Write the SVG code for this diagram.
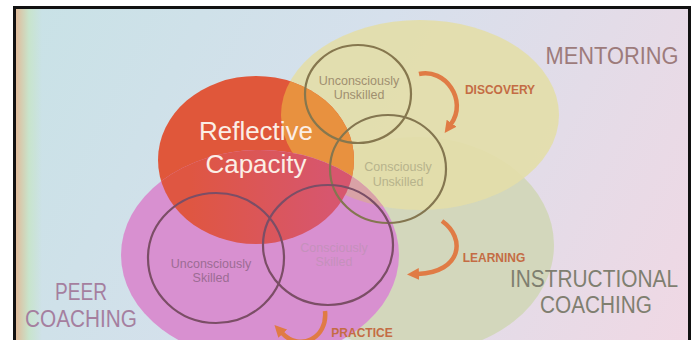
<svg xmlns="http://www.w3.org/2000/svg" width="695" height="340" viewBox="0 0 695 340">
<style>
.lbl{font-family:"Liberation Sans",Arial,sans-serif;text-anchor:middle}
.big{font-size:23px}
.step{font-size:12px;font-weight:bold;fill:#c46c44}
.inner{font-size:12.5px}
.ring{fill:none;stroke-width:2.2}
.arrow{fill:none;stroke:#e07b45;stroke-width:4.5;marker-end:url(#head)}
</style>
<defs>
<linearGradient id="bg" gradientUnits="userSpaceOnUse" x1="16" y1="9" x2="688" y2="340">
<stop offset="0" stop-color="#c8e2e6"/>
<stop offset="0.45" stop-color="#d6e0ec"/>
<stop offset="1" stop-color="#f0d8e4"/>
</linearGradient>
<linearGradient id="edge" gradientUnits="userSpaceOnUse" x1="16" y1="0" x2="42" y2="0">
<stop offset="0" stop-color="#e0bc9c"/>
<stop offset="0.5" stop-color="#c8e4cc"/>
<stop offset="1" stop-color="#c8e4cc" stop-opacity="0"/>
</linearGradient>
<linearGradient id="mr" gradientUnits="userSpaceOnUse" x1="190" y1="0" x2="330" y2="0">
<stop offset="0" stop-color="#df5642"/>
<stop offset="1" stop-color="#d7566e"/>
</linearGradient>
<clipPath id="clipSlide"><rect x="16" y="9" width="672" height="331"/></clipPath>
<clipPath id="clipR"><ellipse cx="256" cy="160" rx="98" ry="84"/></clipPath>
<clipPath id="clipM"><ellipse cx="260" cy="255" rx="139" ry="105"/></clipPath>
<marker id="head" viewBox="0 -6 12 12" markerWidth="12" markerHeight="12" refX="1" refY="0" orient="auto" markerUnits="userSpaceOnUse">
<path d="M0,-6 L12,0 L0,6 Z" fill="#e07b45"/>
</marker>
</defs>
<rect x="0" y="0" width="695" height="340" fill="#ffffff"/>
<rect x="13" y="6" width="678" height="340" fill="#111111"/>
<g clip-path="url(#clipSlide)">
<rect x="16" y="9" width="672" height="331" fill="url(#bg)"/>
<rect x="16" y="9" width="26" height="331" fill="url(#edge)"/>

<g id="instructional-coaching">
<ellipse cx="417" cy="245" rx="137" ry="108" fill="#d3d7bc"/>
<text class="lbl big" x="594" y="287" fill="#7f7f70" textLength="168" lengthAdjust="spacingAndGlyphs" font-size="25">INSTRUCTIONAL</text>
<text class="lbl big" x="596" y="313" fill="#7f7f70" textLength="112" lengthAdjust="spacingAndGlyphs">COACHING</text>
</g>
<g id="mentoring">
<ellipse cx="420" cy="115" rx="139" ry="95" fill="#e3dea8" fill-opacity="0.9"/>
<text class="lbl big" x="612" y="64" fill="#9d7b7b" textLength="133" lengthAdjust="spacingAndGlyphs">MENTORING</text>
</g>
<g id="reflective-capacity">
<ellipse cx="256" cy="160" rx="98" ry="84" fill="#e0573a"/>
<ellipse cx="420" cy="115" rx="139" ry="95" fill="#e8913f" clip-path="url(#clipR)"/>
</g>
<g id="peer-coaching">
<ellipse cx="260" cy="255" rx="139" ry="105" fill="#d890d0"/>
<ellipse cx="420" cy="115" rx="139" ry="95" fill="#d9a2a6" clip-path="url(#clipM)"/>
<ellipse cx="256" cy="160" rx="98" ry="84" fill="url(#mr)" clip-path="url(#clipM)"/>
<text class="lbl big" x="81" y="300" fill="#a57f9f" textLength="52" lengthAdjust="spacingAndGlyphs">PEER</text>
<text class="lbl big" x="81" y="327" fill="#a57f9f" textLength="112" lengthAdjust="spacingAndGlyphs">COACHING</text>
</g>
<g id="reflective-label">
<text class="lbl" x="256" y="140" font-size="26" fill="#fbeee6">Reflective</text>
<text class="lbl" x="256" y="173" font-size="26" fill="#fbeee6">Capacity</text>
</g>

<g id="unconsciously-unskilled">
<ellipse class="ring" cx="358" cy="94" rx="53" ry="49" stroke="#86774e"/>
<text class="lbl inner" x="359" y="85" fill="#a08f70">Unconsciously</text>
<text class="lbl inner" x="359" y="99" fill="#a08f70">Unskilled</text>
</g>
<g id="consciously-unskilled">
<ellipse class="ring" cx="388" cy="169" rx="58" ry="54" stroke="#847650"/>
<text class="lbl inner" x="398" y="171" fill="#b7b38c">Consciously</text>
<text class="lbl inner" x="398" y="186" fill="#b7b38c">Unskilled</text>
</g>
<g id="unconsciously-skilled">
<ellipse class="ring" cx="216" cy="258" rx="68" ry="65" stroke="#7b4e66"/>
<text class="lbl inner" x="211" y="268" fill="#9c6c94">Unconsciously</text>
<text class="lbl inner" x="211" y="282" fill="#9c6c94">Skilled</text>
</g>
<g id="consciously-skilled">
<ellipse class="ring" cx="328" cy="245" rx="65" ry="60" stroke="#7b4e66"/>
<text class="lbl inner" x="334" y="252" fill="#c591bc">Consciously</text>
<text class="lbl inner" x="334" y="266" fill="#c591bc">Skilled</text>
</g>

<g id="connectors">
<path class="arrow" d="M419 74 C445 68,468 100,451 124"/>
<text class="lbl step" x="500" y="94">DISCOVERY</text>
<path class="arrow" d="M442 221 C466 238,462 272,418 274"/>
<text class="lbl step" x="494" y="262">LEARNING</text>
<path class="arrow" d="M325 311 C328 338,300 352,282 333"/>
<text class="lbl step" x="362" y="336.5">PRACTICE</text>
</g>
</g>
</svg>
